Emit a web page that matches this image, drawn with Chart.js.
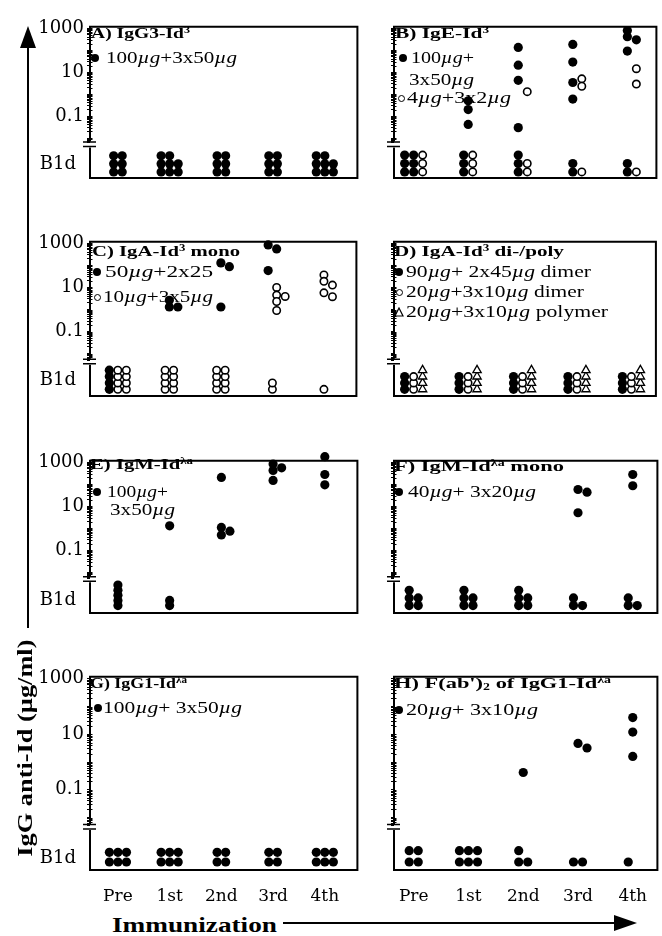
<!DOCTYPE html>
<html><head><meta charset="utf-8">
<script src="https://cdn.jsdelivr.net/npm/chart.js@4.4.1/dist/chart.umd.min.js"></script>
<style>
html,body{margin:0;padding:0;background:#fff;overflow:hidden;}
#wrap{position:relative;width:662px;height:936px;background:#fff;}
canvas{position:absolute;}
.t{position:absolute;white-space:nowrap;font-family:'Liberation Serif','Times New Roman',serif;color:#000;transform-origin:0 50%;line-height:1.1;}
.b{font-weight:bold;}
.t sup{font-size:0.62em;vertical-align:0.5em;line-height:0;}
.t sub{font-size:0.62em;vertical-align:-0.25em;line-height:0;}
.mk{position:absolute;box-sizing:border-box;}
</style></head><body><div id="wrap"></div>
<script>
// ---------------- DATA ----------------
const timepoints = ['Pre', '1st', '2nd', '3rd', '4th'];
const yLabelValues = [1000, 10, 0.1];
const belowLabel = 'B1d';
const yAxisTitle = 'IgG anti-Id (µg/ml)';
const xAxisTitle = 'Immunization';

// measured values (µg/ml) per time point; *Bld = number of animals below detection per time point
const aFilledBld = [6, 8, 6, 6, 8];

const bFilledValues = [[], [0.5, 0.2, 0.042], [135, 21, 4.3, 0.03], [185, 29, 3.4, 0.6], [790, 415, 300, 92]];
const bFilledBld = [6, 3, 3, 2, 2];
const bOpenValues = [[], [], [1.3], [5, 2.3], [14.5, 2.9]];
const bOpenBld = [3, 3, 2, 1, 1];

const cFilledValues = [[], [2.6, 1.3, 1.3], [130, 87, 1.3], [850, 560, 58], []];
const cFilledBld = [4, 0, 0, 0, 0];
const cOpenValues = [[], [], [], [10, 4.5, 3.9, 2.3, 0.9], [37, 19, 12.8, 5.7, 3.8]];
const cOpenBld = [8, 8, 8, 2, 1];

const dFilledBld = [3, 3, 3, 3, 3];
const dOpenBld = [3, 3, 3, 3, 3];
const dTriangleBld = [4, 4, 4, 4, 4];

const eFilledValues = [[], [1.3], [205, 1.1, 0.74, 0.5], [840, 560, 430, 150], [1800, 280, 95]];
const eFilledBld = [5, 2, 0, 0, 0];

const fFilledValues = [[], [], [], [58, 44, 5.1], [280, 86]];
const fFilledBld = [5, 5, 5, 3, 3];

const gFilledBld = [6, 6, 4, 4, 6];

const hFilledValues = [[], [], [0.42], [4.7, 3.2], [40, 12, 1.6]];
const hFilledBld = [4, 6, 3, 2, 1];

const panelTitles = {
  A: 'A) IgG3-Id<sup>3</sup>',
  B: 'B) IgE-Id<sup>3</sup>',
  C: 'C) IgA-Id<sup>3</sup> mono',
  D: 'D) IgA-Id<sup>3</sup> di-/poly',
  E: 'E) IgM-Id<sup>λa</sup>',
  F: 'F) IgM-Id<sup>λa</sup> mono',
  G: 'G) IgG1-Id<sup>λa</sup>',
  H: "H) F(ab')<sub>2</sub> of IgG1-Id<sup>λa</sup>"
};
const legendLines = {
  A: [['filled', '100<i>µg</i>+3x50<i>µg</i>']],
  B: [['filled', '100<i>µg</i>+'], [null, '3x50<i>µg</i>'], ['open', '4<i>µg</i>+3x2<i>µg</i>']],
  C: [['filled', '50<i>µg</i>+2x25'], ['open', '10<i>µg</i>+3x5<i>µg</i>']],
  D: [['filled', '90<i>µg</i>+ 2x45<i>µg</i> dimer'], ['open', '20<i>µg</i>+3x10<i>µg</i> dimer'], ['triangle', '20<i>µg</i>+3x10<i>µg</i> polymer']],
  E: [['filled', '100<i>µg</i>+'], [null, '3x50<i>µg</i>']],
  F: [['filled', '40<i>µg</i>+ 3x20<i>µg</i>']],
  G: [['filled', '100<i>µg</i>+ 3x50<i>µg</i>']],
  H: [['filled', '20<i>µg</i>+ 3x10<i>µg</i>']]
};

// ---------------- LAYOUT ----------------
const wrap = document.getElementById('wrap');
const COL = 0.165;          // x-units between cluster columns
const PX_PER_DEC = 28.75;
const rowsGeom = [{top: 20, h: 198}, {top: 235, h: 201}, {top: 454, h: 199}, {top: 670, h: 200}];
const colsGeom = [
  {cx: 36, cw: 326, yw: 54, padR: 4, xmin: -0.54, xmax: 4.63},
  {cx: 380, cw: 282, yw: 14, padR: 3, xmin: -0.36, xmax: 4.45}
];
const styles = {
  filled: {pointStyle: 'circle', pointRadius: 4.6, pointBackgroundColor: '#000', pointBorderColor: '#000', pointBorderWidth: 0},
  open: {pointStyle: 'circle', pointRadius: 3.7, pointBackgroundColor: '#fff', pointBorderColor: '#000', pointBorderWidth: 1.6},
  triangle: {pointStyle: 'triangle', pointRadius: 4.8, pointBackgroundColor: '#fff', pointBorderColor: '#000', pointBorderWidth: 1.3}
};

const panels = [
  {key: 'A', r: 0, c: 0, series: [{kind: 'filled', vals: null, bld: aFilledBld}], bld: {minCols: 2, maxRows: 3, rowPx: 10.5, basePx: 8, labelRow: 0.95}},
  {key: 'B', r: 0, c: 1, series: [{kind: 'filled', vals: bFilledValues, bld: bFilledBld}, {kind: 'open', vals: bOpenValues, bld: bOpenBld}], bld: {minCols: 1, maxRows: 3, rowPx: 11, basePx: 8, labelRow: 1}},
  {key: 'C', r: 1, c: 0, series: [{kind: 'filled', vals: cFilledValues, bld: cFilledBld}, {kind: 'open', vals: cOpenValues, bld: cOpenBld}], bld: {minCols: 1, maxRows: 4, rowPx: 8.3, basePx: 8.7, labelRow: 1.36}},
  {key: 'D', r: 1, c: 1, series: [{kind: 'filled', vals: null, bld: dFilledBld}, {kind: 'open', vals: null, bld: dOpenBld}, {kind: 'triangle', vals: null, bld: dTriangleBld}], bld: {minCols: 1, maxRows: 4, rowPx: 8.3, basePx: 8.7, labelRow: 1.36}},
  {key: 'E', r: 2, c: 0, series: [{kind: 'filled', vals: eFilledValues, bld: eFilledBld}], bld: {minCols: 1, maxRows: 5, rowPx: 6.7, basePx: 9.7, labelRow: 1}},
  {key: 'F', r: 2, c: 1, series: [{kind: 'filled', vals: fFilledValues, bld: fFilledBld}], bld: {minCols: 2, maxRows: 3, rowPx: 10, basePx: 9.7, labelRow: 1}},
  {key: 'G', r: 3, c: 0, series: [{kind: 'filled', vals: null, bld: gFilledBld}], bld: {minCols: 2, maxRows: 2, rowPx: 10, basePx: 8.3, labelRow: 0.37}},
  {key: 'H', r: 3, c: 1, series: [{kind: 'filled', vals: hFilledValues, bld: hFilledBld}], bld: {minCols: 2, maxRows: 2, rowPx: 11.7, basePx: 8.3, labelRow: 0.4}}
];

function buildMeasured(p) {
  const per = p.series.map(() => []);
  timepoints.forEach((_, t) => {
    const present = [];
    p.series.forEach((s, i) => { if (s.vals && s.vals[t] && s.vals[t].length) present.push(i); });
    present.forEach((si, k) => {
      const base = k - (present.length - 1) / 2;
      const placed = [];
      [...p.series[si].vals[t]].sort((a, b) => b - a).forEach(v => {
        const lv = Math.log10(v);
        let off = 0;
        for (const c of [0, 1, -1, 2, -2]) {
          if (!placed.some(q => q.c === c && Math.abs(q.lv - lv) < 0.2)) { off = c; break; }
        }
        placed.push({c: off, lv});
        per[si].push({x: t + (base + off) * COL, y: v});
      });
    });
  });
  return per;
}

function buildBld(p) {
  const per = p.series.map(() => []);
  const cfg = p.bld;
  timepoints.forEach((_, t) => {
    const ncols = p.series.map(s => { const n = s.bld[t]; return n > 0 ? Math.max(cfg.minCols, Math.ceil(n / cfg.maxRows)) : 0; });
    const total = ncols.reduce((a, b) => a + b, 0);
    let start = -(total - 1) / 2;
    p.series.forEach((s, si) => {
      const n = s.bld[t];
      for (let k = 0; k < n; k++) {
        per[si].push({x: t + (start + (k % ncols[si])) * COL, y: Math.floor(k / ncols[si])});
      }
      start += ncols[si];
    });
  });
  return per;
}

const framePlugin = {
  id: 'frame',
  beforeDatasetsDraw(chart) {
    const {ctx} = chart;
    const {left, right, top, bottom} = chart.chartArea;
    const ys = chart.scales.y;
    const brk = ys.bottom;
    ctx.save();
    ctx.strokeStyle = '#000';
    // inner minor tick marks along the log axis
    ctx.lineWidth = 1;
    ctx.beginPath();
    ys.ticks.forEach(tk => {
      const py = Math.round(ys.getPixelForValue(tk.value)) + 0.5;
      if (py < brk - 4) { ctx.moveTo(left, py); ctx.lineTo(left + 2.5, py); }
    });
    ctx.stroke();
    ctx.lineWidth = 2;
    ctx.beginPath();
    ctx.moveTo(left - 1, top); ctx.lineTo(right, top); ctx.lineTo(right, bottom); ctx.lineTo(left - 1, bottom);
    ctx.moveTo(left, top); ctx.lineTo(left, brk - 3);
    ctx.moveTo(left, brk + 3); ctx.lineTo(left, bottom);
    ctx.stroke();
    ctx.lineWidth = 1.5;
    ctx.beginPath();
    ctx.moveTo(left - 7, brk - 2.5); ctx.lineTo(left + 6, brk - 2.5);
    ctx.moveTo(left - 7, brk + 2); ctx.lineTo(left + 6, brk + 2);
    ctx.stroke();
    ctx.restore();
  }
};

const tickFont = {family: 'DejaVu Serif', size: 18};

function makeChart(p) {
  const rg = rowsGeom[p.r], cg = colsGeom[p.c];
  const isBottom = p.r === 3;
  const xAxisH = 40;
  const cTop = rg.top - 10;
  const cH = rg.h + 10 + (isBottom ? xAxisH : 10);
  const canvas = document.createElement('canvas');
  canvas.width = cg.cw; canvas.height = cH;
  canvas.style.left = cg.cx + 'px'; canvas.style.top = cTop + 'px';
  canvas.style.width = cg.cw + 'px'; canvas.style.height = cH + 'px';
  wrap.appendChild(canvas);

  const logH = rg.h * 3.5 / 4.5, bandH = rg.h / 4.5;
  const yMax = Math.pow(10, 3 + 2 / PX_PER_DEC);
  const yMin = Math.pow(10, 3 - (logH - 2) / PX_PER_DEC);
  const ybMin = -p.bld.basePx / p.bld.rowPx;
  const ybMax = ybMin + bandH / p.bld.rowPx;

  const meas = buildMeasured(p);
  const bld = buildBld(p);
  const datasets = [];
  p.series.forEach((s, i) => {
    if (meas[i].length) datasets.push(Object.assign({label: p.key + i + 'm', data: meas[i], xAxisID: 'x', yAxisID: 'y', clip: false, showLine: false}, styles[s.kind]));
    if (bld[i].length) datasets.push(Object.assign({label: p.key + i + 'b', data: bld[i], xAxisID: 'x', yAxisID: 'yb', clip: false, showLine: false}, styles[s.kind]));
  });

  new Chart(canvas, {
    type: 'scatter',
    data: {datasets},
    options: {
      responsive: false, animation: false, devicePixelRatio: 1,
      layout: {padding: {top: 10, right: cg.padR, bottom: isBottom ? 0 : 10, left: 0}},
      plugins: {legend: {display: false}, tooltip: {enabled: false}},
      events: [],
      scales: {
        x: {
          type: 'linear', min: cg.xmin, max: cg.xmax, display: isBottom, position: 'bottom',
          grid: {display: false}, border: {display: false},
          afterBuildTicks: s => { s.ticks = timepoints.map((_, i) => ({value: i})); },
          afterFit: s => { s.height = xAxisH; },
          ticks: {autoSkip: false, maxRotation: 0, padding: 8, color: '#000', font: {family: 'DejaVu Serif', size: 17},
            callback: v => timepoints[Math.round(v)] }
        },
        y: {
          type: 'logarithmic', position: 'left', stack: 'v', stackWeight: 3.5, weight: 2,
          min: yMin, max: yMax,
          border: {display: false},
          grid: {display: true, drawOnChartArea: false, drawTicks: true, tickLength: 3, color: '#000', lineWidth: 1},
          afterBuildTicks: s => {
            const t = [];
            for (let e = -3; e <= 3; e++) for (let m = 1; m <= 9; m++) {
              const v = m * Math.pow(10, e);
              if (v >= s.min && v <= s.max) t.push({value: v});
            }
            s.ticks = t;
          },
          afterFit: s => { s.width = cg.yw; },
          ticks: {autoSkip: false, padding: 3, color: '#000', font: tickFont,
            callback: v => {
              if (p.c !== 0) return '';
              const m = yLabelValues.find(L => Math.abs(Math.log10(v) - Math.log10(L)) < 1e-6);
              return m === undefined ? '' : String(m);
            }}
        },
        yb: {
          type: 'linear', position: 'left', stack: 'v', stackWeight: 1, weight: 1,
          min: ybMin, max: ybMax,
          border: {display: false}, grid: {display: false},
          afterBuildTicks: s => { s.ticks = [{value: p.bld.labelRow}]; },
          afterFit: s => { s.width = cg.yw; },
          ticks: {autoSkip: false, padding: 6, color: '#000', font: tickFont,
            callback: () => p.c === 0 ? belowLabel : ''}
        }
      }
    },
    plugins: [framePlugin]
  });
}

panels.forEach(makeChart);

// ---------------- TEXT OVERLAYS ----------------
function addText(html, x, yc, w, size, bold) {
  const d = document.createElement('div');
  d.className = 't' + (bold ? ' b' : '');
  d.style.fontSize = size + 'px';
  d.style.left = '0px'; d.style.top = '0px';
  d.innerHTML = html;
  wrap.appendChild(d);
  const r = d.getBoundingClientRect();
  const s = w ? w / r.width : 1;
  d.style.left = x + 'px';
  d.style.top = (yc - r.height / 2) + 'px';
  d.style.transform = 'scaleX(' + s.toFixed(3) + ')';
  return d;
}
function addMarker(kind, x, y) {
  if (kind === 'triangle') {
    const s = document.createElementNS('http://www.w3.org/2000/svg', 'svg');
    s.setAttribute('width', 10); s.setAttribute('height', 10);
    s.style.position = 'absolute'; s.style.left = (x - 5) + 'px'; s.style.top = (y - 5) + 'px';
    s.innerHTML = '<polygon points="5,1 9,9 1,9" fill="#fff" stroke="#000" stroke-width="1.2"/>';
    wrap.appendChild(s);
    return;
  }
  const m = document.createElement('div');
  m.className = 'mk';
  const d = kind === 'filled' ? 8 : 7;
  m.style.width = d + 'px'; m.style.height = d + 'px';
  m.style.left = (x - d / 2) + 'px'; m.style.top = (y - d / 2) + 'px';
  m.style.borderRadius = '50%';
  if (kind === 'filled') m.style.background = '#000';
  else { m.style.background = '#fff'; m.style.border = '1.4px solid #000'; }
  wrap.appendChild(m);
}

// title positions [x, y, width]; legend line positions [markerX, textX, y, width]
const titlePos = {
  A: [91, 33, 99], B: [395, 33, 94], C: [92, 251, 148], D: [394, 251, 170],
  E: [90, 464, 103], F: [394, 466, 170], G: [90, 683, 97], H: [394, 683, 217]
};
const legendPos = {
  A: [[95, 106, 58, 131]],
  B: [[403, 411, 58, 63], [0, 409, 80, 65], [401, 407, 98, 104]],
  C: [[97, 105, 272, 108], [97, 103, 297, 110]],
  D: [[399, 406, 272, 185], [399, 406, 292, 178], [399, 406, 312, 202]],
  E: [[97, 107, 492, 61], [0, 110, 510, 65]],
  F: [[399, 408, 492, 128]],
  G: [[98, 103, 708, 139]],
  H: [[399, 406, 710, 132]]
};
Object.keys(panelTitles).forEach(k => {
  const tp = titlePos[k];
  addText(panelTitles[k], tp[0], tp[1], tp[2], 15, true);
  legendLines[k].forEach((ln, i) => {
    const lp = legendPos[k][i];
    if (ln[0]) addMarker(ln[0], lp[0], lp[2]);
    addText(ln[1], lp[1], lp[2], lp[3], 16, false);
  });
});

// axis titles
(function () {
  const d = document.createElement('div');
  d.className = 't b';
  d.style.fontSize = '22px';
  d.textContent = yAxisTitle;
  wrap.appendChild(d);
  const r = d.getBoundingClientRect();
  const s = 217 / r.width;
  d.style.transformOrigin = '50% 50%';
  d.style.left = (25 - r.width / 2) + 'px';
  d.style.top = (748 - r.height / 2) + 'px';
  d.style.transform = 'rotate(-90deg) scaleX(' + s.toFixed(3) + ')';
})();
addText(xAxisTitle, 112, 925, 165, 22, true);

// arrows
(function () {
  const s = document.createElementNS('http://www.w3.org/2000/svg', 'svg');
  s.setAttribute('width', 662); s.setAttribute('height', 936);
  s.style.position = 'absolute'; s.style.left = '0'; s.style.top = '0'; s.style.pointerEvents = 'none';
  s.innerHTML =
    '<line x1="28" y1="44" x2="28" y2="628" stroke="#000" stroke-width="2"/>' +
    '<polygon points="28,26 20,48 36,48" fill="#000"/>' +
    '<line x1="283" y1="923" x2="618" y2="923" stroke="#000" stroke-width="2"/>' +
    '<polygon points="637,923 614,915 614,931" fill="#000"/>';
  wrap.appendChild(s);
})();
</script>
</body></html>
